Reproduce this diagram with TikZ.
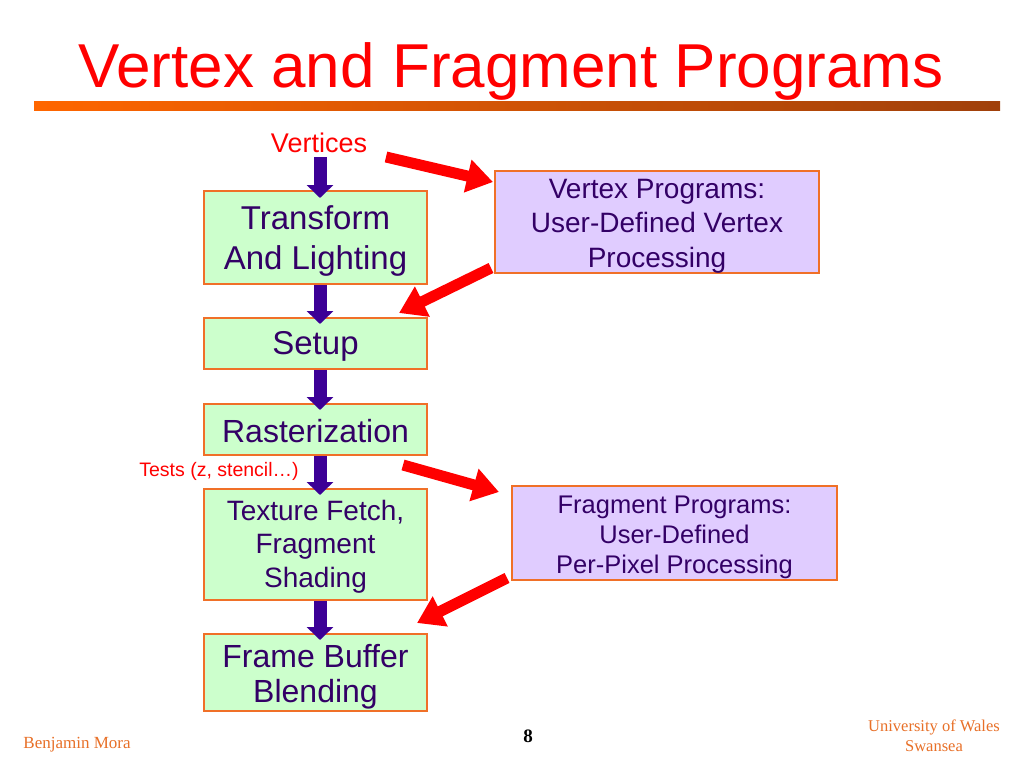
\documentclass[tikz,border=0pt]{standalone}
\usepackage{fontspec}
\setmainfont{Liberation Sans}
\newfontfamily\seriffont{Liberation Serif}
\usetikzlibrary{arrows.meta}
\definecolor{titlered}{RGB}{255,0,0}
\definecolor{boxborder}{RGB}{240,112,40}
\definecolor{greenfill}{RGB}{204,255,204}
\definecolor{lavfill}{RGB}{224,204,255}
\definecolor{inktext}{RGB}{51,0,102}
\definecolor{parrowcol}{RGB}{60,0,150}
\definecolor{footorange}{RGB}{232,112,40}
\definecolor{barleft}{RGB}{255,102,0}
\definecolor{barright}{RGB}{160,64,10}
\tikzset{
  stage/.style={draw=boxborder, line width=2pt, fill=greenfill,
    minimum width=223pt, inner sep=0pt},
  progbox/.style={draw=boxborder, line width=2pt, fill=lavfill, inner sep=0pt},
  boxtext/.style={text=inktext, inner sep=0pt, align=center},
  parrow/.style={draw=parrowcol, line width=13pt, -{Triangle[width=26pt,length=13pt]}},
  rarrow/.style={draw=red, line width=11pt, -{Triangle[width=32pt,length=26pt]}},
}
\begin{document}
\begin{tikzpicture}[x=1pt,y=-1pt]
\useasboundingbox (0,0) rectangle (1024,768);
\fill[white] (0,0) rectangle (1024,768);
% title
\node[anchor=base, text=titlered, font=\fontsize{62}{70}\selectfont, inner sep=0pt] (title) at (511,87) {Vertex and Fragment Programs};
\shade[left color=barleft, right color=barright] (34,101) rectangle (1000,110);
% pipeline stages
\node[stage, minimum height=93pt] (tl) at (315.5,237.5) {};
\node[stage, minimum height=51pt] (setup) at (315.5,343.5) {};
\node[stage, minimum height=51pt] (rast) at (315.5,429.5) {};
\node[stage, minimum height=111pt] (tex) at (315.5,544.5) {};
\node[stage, minimum height=77pt] (fb) at (315.5,672.5) {};
% program boxes
\node[progbox, minimum width=324pt, minimum height=102pt] (vp) at (657,222) {};
\node[progbox, minimum width=325pt, minimum height=94pt] (fp) at (674.5,533) {};
% box texts
\node[boxtext, font=\fontsize{33}{40}\selectfont] (tltxt) at ([yshift=-3pt]tl.center) {Transform\\And Lighting};
\node[boxtext, font=\fontsize{33}{40}\selectfont] (setuptxt) at ([yshift=-3pt]setup.center) {Setup};
\node[boxtext, font=\fontsize{32}{40}\selectfont] (rasttxt) at ([yshift=-2pt]rast.center) {Rasterization};
\node[boxtext, font=\fontsize{28}{33.5}\selectfont] (textxt) at ([yshift=-2pt]tex.center) {Texture Fetch,\\Fragment\\Shading};
\node[boxtext, font=\fontsize{32}{35}\selectfont] (fbtxt) at ([yshift=-4pt]fb.center) {Frame Buffer\\Blending};
\node[boxtext, font=\fontsize{28}{34.5}\selectfont] (vptxt) at ([yshift=-4pt]vp.center) {Vertex Programs:\\User-Defined Vertex\\Processing};
\node[boxtext, font=\fontsize{25.5}{30}\selectfont] (fptxt) at ([yshift=-4pt]fp.center) {Fragment Programs:\\User-Defined\\Per-Pixel Processing};
% labels
\node[text=red, font=\fontsize{27}{32}\selectfont, inner sep=0pt, anchor=base] (vert) at (319,152) {Vertices};
\node[text=red, font=\fontsize{19.5}{23}\selectfont, inner sep=0pt, anchor=base] (tests) at (219,476) {Tests (z, stencil\ldots)};
% purple flow arrows
\draw[parrow] (320,157) -- ([yshift=-8pt]tl.north -| 320,0);
\draw[parrow] (tl.south -| 320,0) -- ([yshift=-7pt]setup.north -| 320,0);
\draw[parrow] (setup.south -| 320,0) -- ([yshift=-7pt]rast.north -| 320,0);
\draw[parrow] (rast.south -| 320,0) -- ([yshift=-7pt]tex.north -| 320,0);
\draw[parrow] (tex.south -| 320,0) -- ([yshift=-7pt]fb.north -| 320,0);
% red arrows
\coordinate (r1s) at (386,157);
\coordinate (r1e) at (493,182);
\coordinate (r2s) at (491,268);
\coordinate (r2e) at (399,313);
\coordinate (r3s) at (403,465);
\coordinate (r3e) at (499,492);
\coordinate (r4s) at (507,578);
\coordinate (r4e) at (417,623);
\draw[rarrow] (r1s) -- (r1e);
\draw[rarrow] (r2s) -- (r2e);
\draw[rarrow] (r3s) -- (r3e);
\draw[rarrow] (r4s) -- (r4e);
% footer
\node[text=footorange, font=\seriffont\fontsize{17}{20}\selectfont, inner sep=0pt, anchor=base] (author) at (77,748) {Benjamin Mora};
\node[text=black, font=\seriffont\bfseries\fontsize{19}{22}\selectfont, inner sep=0pt, anchor=base] (page) at (528,742) {8};
\node[text=footorange, font=\seriffont\fontsize{16.5}{20}\selectfont, inner sep=0pt, align=center, anchor=base] (uni) at (934,751) {University of Wales\\Swansea};
\end{tikzpicture}
\end{document}
